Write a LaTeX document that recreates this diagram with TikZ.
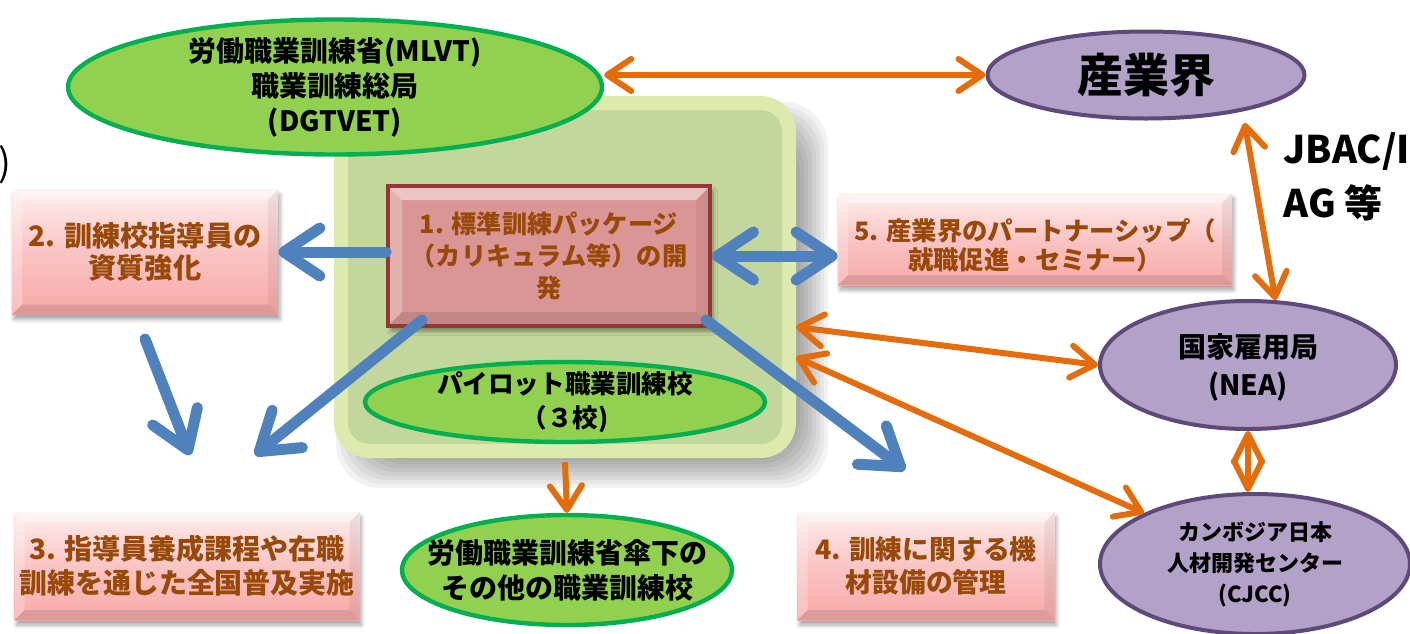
\documentclass[tikz,border=0pt]{standalone}
\usepackage{fontspec}
\setmainfont{Noto Sans CJK JP}
\usetikzlibrary{shapes.geometric,arrows.meta,shadows.blur,calc}
\definecolor{bluec}{HTML}{4F81BD}
\definecolor{orangec}{HTML}{E46C0A}
\definecolor{greenf}{HTML}{92D050}
\definecolor{greend}{HTML}{00B050}
\definecolor{purf}{HTML}{B3A2C7}
\definecolor{purd}{HTML}{5F497A}
\definecolor{brownt}{HTML}{984807}
\definecolor{gboxf}{HTML}{C3D69B}
\definecolor{glowc}{HTML}{DCEAAE}
\definecolor{pinktop}{HTML}{FDEEEE}
\definecolor{pinkbot}{HTML}{F7A9A8}
\definecolor{bonefill}{HTML}{D99694}
\definecolor{boneedge}{HTML}{953735}
\begin{document}
\begin{tikzpicture}[x=0.5pt,y=-0.5pt,
  greenell/.style={ellipse, fill=greenf, draw=greend, line width=2.2pt, inner sep=0pt},
  purell/.style={ellipse, fill=purf, draw=purd, line width=2pt, inner sep=0pt},
  etext/.style={align=center, inner sep=0pt, font=\bfseries\fontsize{14}{17.5}\selectfont},
  bevel/.style={path picture={
     \fill[white,opacity=0.45] (path picture bounding box.north west) -- (path picture bounding box.north east) -- ([shift={(-#1,-#1)}]path picture bounding box.north east) -- ([shift={(#1,-#1)}]path picture bounding box.north west) -- cycle;
     \fill[white,opacity=0.25] (path picture bounding box.north west) -- (path picture bounding box.south west) -- ([shift={(#1,#1)}]path picture bounding box.south west) -- ([shift={(#1,-#1)}]path picture bounding box.north west) -- cycle;
     \fill[black,opacity=0.10] (path picture bounding box.south west) -- (path picture bounding box.south east) -- ([shift={(-#1,#1)}]path picture bounding box.south east) -- ([shift={(#1,#1)}]path picture bounding box.south west) -- cycle;
     \fill[black,opacity=0.06] (path picture bounding box.north east) -- (path picture bounding box.south east) -- ([shift={(-#1,#1)}]path picture bounding box.south east) -- ([shift={(-#1,-#1)}]path picture bounding box.north east) -- cycle;}},
  pinkbox/.style={rectangle, top color=pinktop, bottom color=pinkbot, middle color=pinkbot!60!pinktop, draw=none, inner sep=0pt, align=center, text=brownt,
     font=\bfseries\fontsize{14}{17}\selectfont, bevel=5pt,
     blur shadow={shadow xshift=1pt, shadow yshift=-2.5pt, shadow blur radius=2pt, shadow opacity=35}},
  bonebox/.style={rectangle, fill=bonefill, draw=boneedge, line width=2pt, inner sep=0pt, bevel=7pt,
     blur shadow={shadow xshift=1.5pt, shadow yshift=-2.5pt, shadow blur radius=2pt, shadow opacity=40}},
  btext/.style={align=center, inner sep=0pt, text=brownt, font=\bfseries\fontsize{12.6}{16}\selectfont},
  bluearr/.style={draw=bluec, line width=5.5pt, line cap=round, -{Straight Barb[length=18pt,width=24pt,round]}},
  bluedbl/.style={draw=bluec, line width=5.5pt, {Straight Barb[length=18pt,width=24pt,round]}-{Straight Barb[length=18pt,width=24pt,round]}},
  oarr/.style={draw=orangec, line width=3pt, -{Straight Barb[length=12pt,width=16pt,round]}},
  odbl/.style={draw=orangec, line width=3pt, {Straight Barb[length=12pt,width=16pt,round]}-{Straight Barb[length=12pt,width=16pt,round]}},
  odia/.style={draw=orangec, line width=3pt, {Straight Barb[length=14pt,width=14pt,round]}-{Straight Barb[length=14pt,width=14pt,round]}}
]
\useasboundingbox (0,0) rectangle (1410,633);

% soft grey shadow of the green panel
\foreach \s in {-16,-12,...,16}
  \fill[black, opacity=0.05, rounded corners=22pt] (352-\s,118-\s) rectangle (812+\s,472+\s);

% glowing green background panel
\node[rectangle, rounded corners=14pt, fill=gboxf, draw=glowc, line width=7pt,
      minimum width=224pt, minimum height=174pt] (gbox) at (565,277) {};

% free ends
\coordinate (t2) at (190,455);
\coordinate (t3) at (255,455);
\coordinate (t4) at (905,470);

% nodes
\node[greenell, minimum width=267pt, minimum height=67.5pt] (mlvt) at (335,87) {};
\node[etext] at (mlvt) {労働職業訓練省(MLVT)\\職業訓練総局\\(DGTVET)};

\node[purell, minimum width=158.5pt, minimum height=43.5pt] (ind) at (1146,75) {};
\node[etext, font=\bfseries\fontsize{23}{26}\selectfont] at (ind) {産業界};

\node[purell, minimum width=148pt, minimum height=64pt] (nea) at (1248,365) {};
\node[etext, font=\bfseries\fontsize{14}{19}\selectfont] at ([yshift=-1pt]nea) {国家雇用局\\(NEA)};

\node[purell, minimum width=155pt, minimum height=70pt] (cjcc) at (1255,564) {};
\node[etext, font=\bfseries\fontsize{11}{15.5}\selectfont] at (cjcc) {カンボジア日本\\人材開発センター\\(CJCC)};

\node[anchor=west, align=left, inner sep=0pt, font=\bfseries\fontsize{19}{27}\selectfont] (jbac) at (1283,177) {JBAC/I\\AG 等};

\node[inner sep=0pt, font=\fontsize{19}{22}\selectfont] (paren) at (5,165) {)};

\node[pinkbox, minimum width=133pt, minimum height=62.5pt, font=\bfseries\fontsize{14.1}{16}\selectfont] (box2) at (145,252) {2. 訓練校指導員の\\資質強化};
\node[pinkbox, minimum width=197pt, minimum height=46pt] (box5) at (1035,239) {};
\node[btext, font=\bfseries\fontsize{12.7}{14.5}\selectfont] at ([yshift=-3pt]box5) {5. 産業界のパートナーシップ（\\就職促進・セミナー）};
\node[pinkbox, minimum width=172.5pt, minimum height=54pt] (box3) at (187,566) {3. 指導員養成課程や在職\\訓練を通じた全国普及実施};
\node[pinkbox, minimum width=128.5pt, minimum height=54pt, font=\bfseries\fontsize{13.4}{16.5}\selectfont] (box4) at (926,566) {4. 訓練に関する機\\材設備の管理};

\node[greenell, minimum width=200pt, minimum height=40pt] (pilot) at (565,402) {};
\node[etext, font=\bfseries\fontsize{12.8}{17}\selectfont] at (pilot) {パイロット職業訓練校\\（３校)};

\node[greenell, minimum width=165pt, minimum height=55pt] (others) at (567,570) {};
\node[etext, font=\bfseries\fontsize{14}{17.5}\selectfont] at (others) {労働職業訓練省傘下の\\その他の職業訓練校};

\node[bonebox, minimum width=161pt, minimum height=70pt] (box1) at (549,256) {};

% connectors
\draw[bluearr] ([shift={(18pt,4pt)}]box1.south west) -- (t3);
\draw[bluearr] ([shift={(-3pt,4pt)}]box1.south east) -- (t4);
\node[btext] (box1t) at (box1) {1. 標準訓練パッケージ\\（カリキュラム等）の開\\発};
\draw[bluearr] ([shift={(0,-12pt)}]box2.south) -- (t2);
\draw[bluearr] (box1.west |- box2.east) -- (box2.east);
\draw[bluedbl] (box1.east) -- (box1.east -| box5.west);

\draw[odbl] (mlvt.east |- ind.west) -- (ind.west);
\draw[odbl] ([yshift=-6pt]ind.-20) -- (nea.67);
\draw[odbl] ([yshift=-25pt]gbox.east) -- (nea.west);
\draw[odbl] ([yshift=-40pt]gbox.east) -- (cjcc.north west);
\draw[odia] (nea.south) -- (nea.south |- cjcc.north);
\draw[oarr] ([yshift=-9pt]pilot.south) -- (others.north);
\end{tikzpicture}
\end{document}
